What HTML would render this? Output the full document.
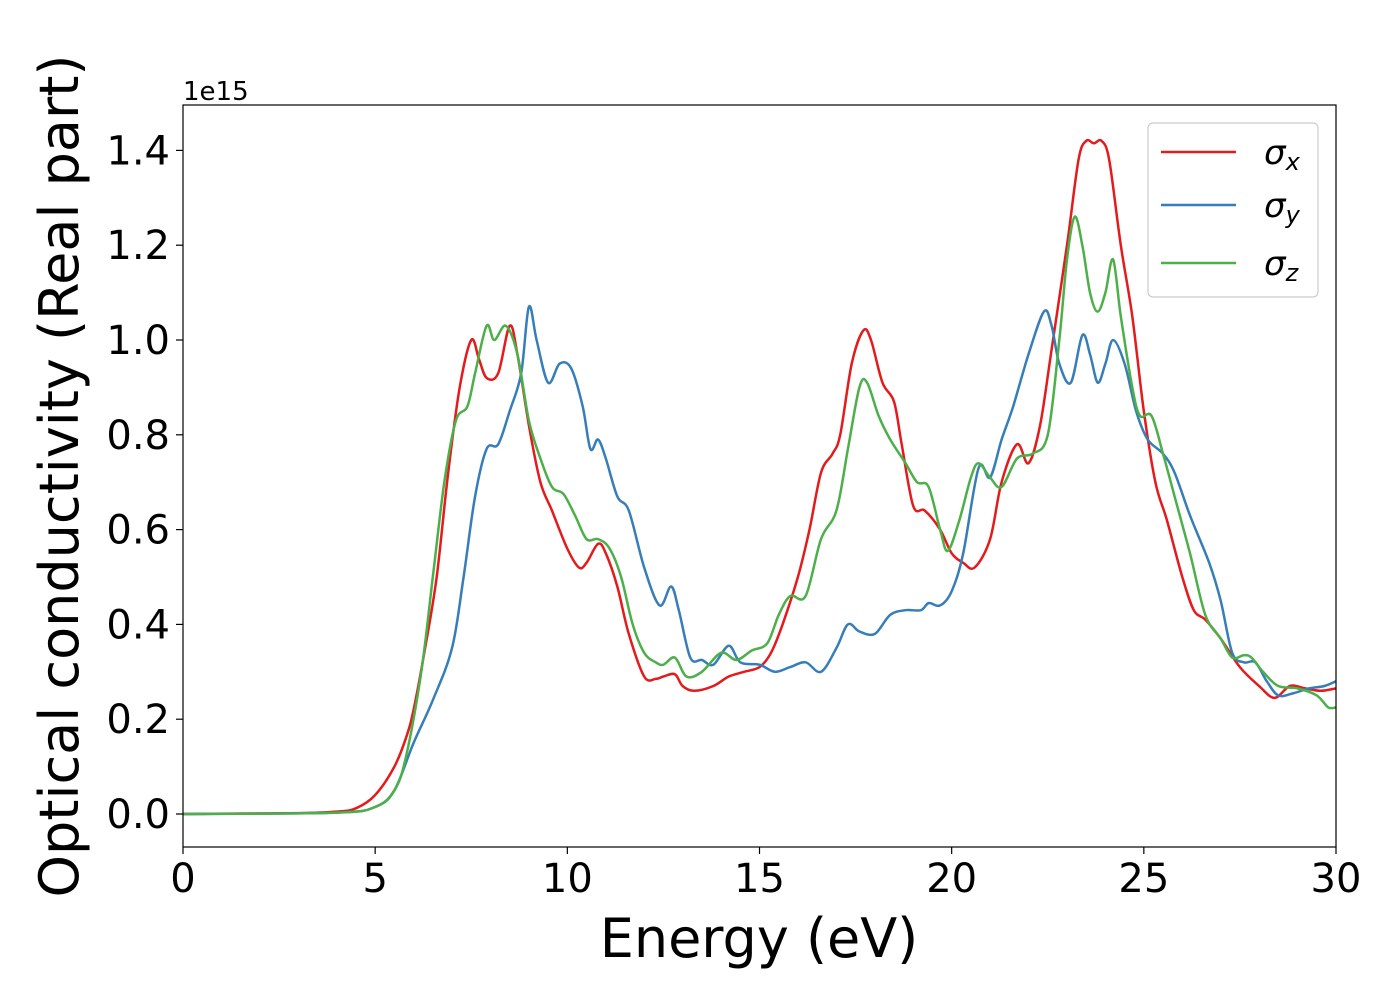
<!DOCTYPE html>
<html><head><meta charset="utf-8"><style>
body{margin:0;background:#fff;}
svg text{font-family:"DejaVu Sans","Liberation Sans",sans-serif;}
</style></head><body>
<svg id="chart" width="1400" height="1000" xmlns="http://www.w3.org/2000/svg">
<rect width="1400" height="1000" fill="#fff"/>
<g id="marks"></g>
<g id="axes"></g>
</svg>
<script>
const xTicks=[0,5,10,15,20,25,30];
const yTicks=[0.0,0.2,0.4,0.6,0.8,1.0,1.2,1.4];
const seriesNames=["σx","σy","σz"];
const redE=[0,3,4,4.5,5,5.5,5.8,6,6.3,6.6,6.9,7.2,7.5,7.7,7.9,8.2,8.5,8.7,9,9.3,9.6,10,10.3,10.5,10.8,11,11.3,11.6,12,12.3,12.5,12.8,13,13.3,13.8,14.2,14.6,15,15.3,15.6,16,16.3,16.6,16.9,17.1,17.4,17.7,17.9,18.2,18.5,18.7,19,19.3,19.7,20,20.3,20.6,21,21.3,21.7,22,22.3,22.6,23,23.3,23.5,23.7,23.9,24.1,24.4,24.7,25,25.3,25.6,26,26.3,26.6,27,27.5,28,28.4,28.8,29.2,29.6,30];
const redV=[0,0.002,0.005,0.012,0.04,0.1,0.16,0.22,0.35,0.5,0.72,0.9,1.0,0.96,0.92,0.93,1.03,0.97,0.82,0.7,0.64,0.56,0.52,0.53,0.57,0.55,0.48,0.38,0.29,0.285,0.29,0.295,0.27,0.26,0.27,0.29,0.3,0.31,0.34,0.4,0.5,0.6,0.72,0.76,0.8,0.95,1.02,1.0,0.91,0.87,0.78,0.65,0.64,0.6,0.55,0.53,0.52,0.58,0.7,0.78,0.74,0.82,0.98,1.2,1.38,1.42,1.415,1.42,1.38,1.2,1.05,0.85,0.7,0.62,0.5,0.43,0.41,0.37,0.31,0.27,0.245,0.27,0.265,0.26,0.265];
const blueE=[0,4,5,5.5,6,6.5,7,7.3,7.6,7.9,8.2,8.5,8.8,9.0,9.2,9.5,9.8,10.1,10.4,10.6,10.8,11.0,11.3,11.6,12,12.4,12.7,12.9,13.2,13.5,13.8,14.2,14.5,15,15.4,15.8,16.2,16.6,17,17.3,17.6,18,18.4,18.8,19.2,19.4,19.7,20,20.3,20.7,21,21.3,21.6,22,22.4,22.6,22.8,23.1,23.4,23.6,23.8,24.0,24.2,24.5,24.8,25.1,25.5,25.8,26.2,26.7,27,27.3,27.6,27.9,28.2,28.5,28.9,29.3,29.7,30];
const blueV=[0,0.003,0.015,0.05,0.15,0.24,0.35,0.5,0.67,0.77,0.78,0.85,0.93,1.07,1.0,0.91,0.95,0.94,0.86,0.77,0.79,0.75,0.67,0.64,0.52,0.44,0.48,0.43,0.33,0.325,0.315,0.355,0.32,0.315,0.3,0.31,0.32,0.3,0.35,0.4,0.385,0.38,0.42,0.43,0.43,0.445,0.44,0.47,0.55,0.73,0.71,0.79,0.86,0.97,1.06,1.03,0.95,0.91,1.01,0.97,0.91,0.95,1.0,0.95,0.85,0.79,0.76,0.72,0.63,0.53,0.45,0.34,0.32,0.32,0.28,0.25,0.255,0.265,0.27,0.28];
const greenE=[0,4,5,5.5,5.8,6.2,6.5,6.8,7.1,7.4,7.6,7.9,8.1,8.4,8.7,9,9.3,9.6,9.9,10.2,10.5,10.8,11.1,11.4,11.7,12,12.3,12.5,12.8,13.1,13.5,14,14.4,14.8,15.2,15.5,15.8,16.2,16.6,17,17.3,17.6,17.8,18.1,18.4,18.8,19.1,19.4,19.7,19.9,20.2,20.5,20.7,21.0,21.3,21.7,22.1,22.5,22.8,23.0,23.2,23.4,23.6,23.8,24.0,24.2,24.4,24.7,24.9,25.2,25.5,25.8,26.2,26.6,27,27.3,27.6,27.8,28.1,28.5,29,29.5,29.8,30];
const greenV=[0,0.003,0.015,0.05,0.12,0.3,0.5,0.7,0.83,0.86,0.93,1.03,1.0,1.03,0.97,0.83,0.75,0.69,0.675,0.63,0.58,0.58,0.56,0.5,0.4,0.34,0.32,0.315,0.33,0.29,0.3,0.34,0.325,0.345,0.36,0.42,0.46,0.46,0.58,0.64,0.77,0.9,0.91,0.84,0.79,0.74,0.7,0.69,0.6,0.555,0.62,0.71,0.74,0.71,0.69,0.75,0.76,0.8,1.0,1.17,1.26,1.2,1.1,1.06,1.1,1.17,1.05,0.9,0.84,0.84,0.76,0.67,0.55,0.42,0.37,0.33,0.335,0.33,0.3,0.27,0.265,0.25,0.225,0.225];

const L=183,R=1336,T=105,B=847;
const xMin=0,xMax=30,yZero=814,yPer=474;
const xs=v=>L+(v-xMin)/(xMax-xMin)*(R-L);
const ys=v=>yZero-v*yPer;
const NS="http://www.w3.org/2000/svg";
function mk(tag,attrs,parent){const e=document.createElementNS(NS,tag);for(const k in attrs)e.setAttribute(k,attrs[k]);parent.appendChild(e);return e;}
function smooth(E,V){
  const p=E.map((e,i)=>[xs(e),ys(V[i])]);
  let d="M"+p[0][0].toFixed(1)+","+p[0][1].toFixed(1);
  for(let i=0;i<p.length-1;i++){
    const p0=p[Math.max(0,i-1)],p1=p[i],p2=p[i+1],p3=p[Math.min(p.length-1,i+2)];
    const c1=[p1[0]+(p2[0]-p0[0])/6,p1[1]+(p2[1]-p0[1])/6];
    const c2=[p2[0]-(p3[0]-p1[0])/6,p2[1]-(p3[1]-p1[1])/6];
    d+="C"+c1[0].toFixed(1)+","+c1[1].toFixed(1)+" "+c2[0].toFixed(1)+","+c2[1].toFixed(1)+" "+p2[0].toFixed(1)+","+p2[1].toFixed(1);
  }
  return d;
}
const marks=document.getElementById('marks');
const axes=document.getElementById('axes');
const defs=mk('defs',{},marks);
const cp=mk('clipPath',{id:'clip'},defs);
mk('rect',{x:L,y:T,width:R-L,height:B-T},cp);
const g=mk('g',{'clip-path':'url(#clip)'},marks);
const series=[[redE,redV,'#e41a1c','sigma-x-line'],[blueE,blueV,'#377eb8','sigma-y-line'],[greenE,greenV,'#4daf4a','sigma-z-line']];
series.forEach(s=>{
  const p=mk('path',{d:smooth(s[0],s[1]),fill:'none',stroke:s[2],'stroke-width':2.5},g);
  
  
});
const frame=mk('rect',{x:L,y:T,width:R-L,height:B-T,fill:'none',stroke:'#000','stroke-width':1.2},axes);


xTicks.forEach(t=>{
  const x=xs(t);
  mk('line',{x1:x,y1:B,x2:x,y2:B+7,stroke:'#000','stroke-width':1.2},axes);
  const tx=mk('text',{x:x,y:B+45,'font-size':40,'text-anchor':'middle'},axes);
  tx.textContent=String(t);
  
  
});
yTicks.forEach(t=>{
  const y=ys(t);
  mk('line',{x1:L-7,y1:y,x2:L,y2:y,stroke:'#000','stroke-width':1.2},axes);
  const tx=mk('text',{x:L-13,y:y+14,'font-size':40,'text-anchor':'end'},axes);
  tx.textContent=t.toFixed(1);
  
  
});
</script>
<svg style="position:absolute;left:0;top:0" width="1400" height="1000" xmlns="http://www.w3.org/2000/svg">
<text x="183" y="100" font-size="26" font-family="DejaVu Sans, Liberation Sans, sans-serif">1e15</text>
<text x="759" y="957" font-size="54" text-anchor="middle" font-family="DejaVu Sans, Liberation Sans, sans-serif">Energy (eV)</text>
<text transform="translate(78,476) rotate(-90)" font-size="54" text-anchor="middle" font-family="DejaVu Sans, Liberation Sans, sans-serif">Optical conductivity (Real part)</text>
<g>
<rect x="1148" y="123" width="170" height="174" rx="5" fill="#fff" fill-opacity="0.8" stroke="#ccc" stroke-width="1.2"/>
<line x1="1161" y1="152" x2="1236" y2="152" stroke="#e41a1c" stroke-width="2.5"/>
<text x="1264" y="164" font-size="34" font-style="italic" font-family="DejaVu Sans, sans-serif">σ<tspan font-size="24" dy="6">x</tspan></text>
<line x1="1161" y1="205" x2="1236" y2="205" stroke="#377eb8" stroke-width="2.5"/>
<text x="1264" y="217" font-size="34" font-style="italic" font-family="DejaVu Sans, sans-serif">σ<tspan font-size="24" dy="6">y</tspan></text>
<line x1="1161" y1="263" x2="1236" y2="263" stroke="#4daf4a" stroke-width="2.5"/>
<text x="1264" y="275" font-size="34" font-style="italic" font-family="DejaVu Sans, sans-serif">σ<tspan font-size="24" dy="6">z</tspan></text>
</g>
</svg>
</body></html>
